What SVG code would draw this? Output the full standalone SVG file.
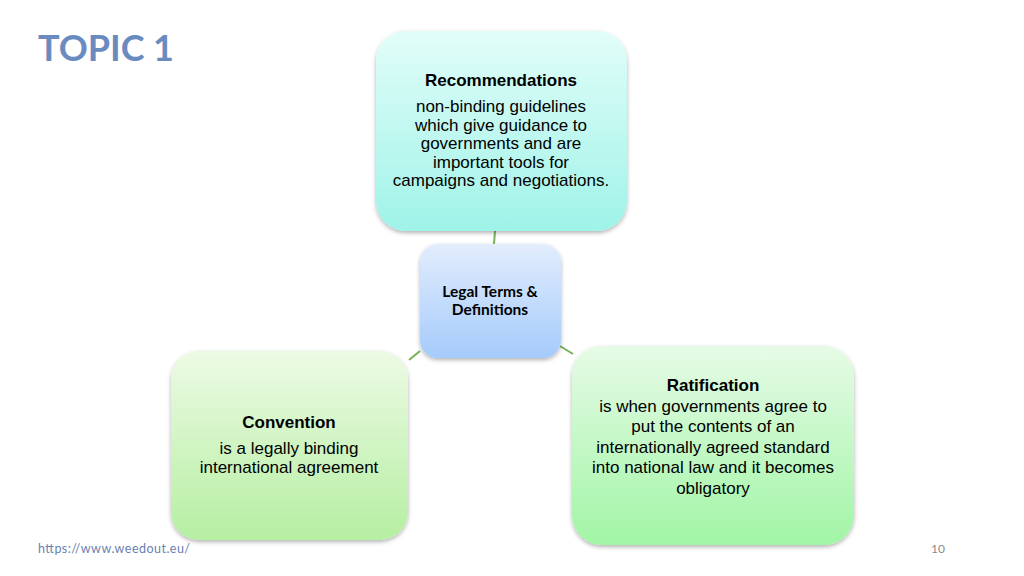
<svg xmlns="http://www.w3.org/2000/svg" width="1024" height="576" viewBox="0 0 1024 576">
<defs>
<linearGradient id="gCyan" x1="0" y1="0" x2="0" y2="1"><stop offset="0" stop-color="#e2fdf9"/><stop offset="1" stop-color="#9ff3e8"/></linearGradient>
<linearGradient id="gBlue" x1="0" y1="0" x2="0" y2="1"><stop offset="0" stop-color="#e2edfd"/><stop offset="1" stop-color="#a5cbfb"/></linearGradient>
<linearGradient id="gGreen1" x1="0" y1="0" x2="0" y2="1"><stop offset="0" stop-color="#ecfae4"/><stop offset="1" stop-color="#b6efa2"/></linearGradient>
<linearGradient id="gGreen2" x1="0" y1="0" x2="0" y2="1"><stop offset="0" stop-color="#e6fbe6"/><stop offset="1" stop-color="#a2f5a6"/></linearGradient>
<filter id="sh" x="-10%" y="-10%" width="120%" height="125%"><feDropShadow dx="0" dy="2" stdDeviation="2" flood-color="#000" flood-opacity="0.3"/></filter>
</defs>
<style>
.t{font-family:"Liberation Sans",Arial,sans-serif;font-size:17px;fill:#000;text-anchor:middle}
.b{font-weight:bold}
.c{font-family:Lato,"Open Sans",sans-serif;font-size:15.5px;font-weight:bold;fill:#000;text-anchor:middle}
.ln{stroke:#76b356;stroke-width:2;fill:none}
</style>
<rect width="1024" height="576" fill="#fff"/>
<text x="38" y="61" font-family="Lato,'Open Sans',sans-serif" font-size="36" font-weight="bold" fill="#6a8bbf" textLength="136">TOPIC 1</text>
<g id="connectors">
<line class="ln" x1="495" y1="231" x2="494" y2="244"/>
<line class="ln" x1="420" y1="351" x2="409" y2="360"/>
<line class="ln" x1="560" y1="346" x2="573" y2="354"/>
</g>
<g id="recommendations">
<rect x="376" y="31" width="251" height="200" rx="30" fill="url(#gCyan)" filter="url(#sh)"/>
<text class="t b" x="501" y="86">Recommendations</text>
<text class="t" x="501" y="112">non-binding guidelines</text>
<text class="t" x="501" y="131">which give guidance to</text>
<text class="t" x="501" y="149">governments and are</text>
<text class="t" x="501" y="168">important tools for</text>
<text class="t" x="501" y="186">campaigns and negotiations.</text>
</g>
<g id="legal">
<rect x="420" y="244" width="141" height="114" rx="18" fill="url(#gBlue)" filter="url(#sh)"/>
<text class="c" x="490" y="297">Legal Terms &amp;</text>
<text class="c" x="490" y="315">Definitions</text>
</g>
<g id="convention">
<rect x="171" y="351" width="237" height="189" rx="28" fill="url(#gGreen1)" filter="url(#sh)"/>
<text class="t b" x="289" y="428">Convention</text>
<text class="t" x="289" y="454">is a legally binding</text>
<text class="t" x="289" y="473">international agreement</text>
</g>
<g id="ratification">
<rect x="572" y="346" width="282" height="199" rx="30" fill="url(#gGreen2)" filter="url(#sh)"/>
<text class="t b" x="713" y="391">Ratification</text>
<text class="t" x="713" y="412">is when governments agree to</text>
<text class="t" x="713" y="432">put the contents of an</text>
<text class="t" x="713" y="453">internationally agreed standard</text>
<text class="t" x="713" y="473">into national law and it becomes</text>
<text class="t" x="713" y="494">obligatory</text>
</g>
<text x="38" y="553" font-family="Lato,'Open Sans',sans-serif" font-size="12.5" fill="#6a7fb0" textLength="152">https://www.weedout.eu/</text>
<text x="945" y="553" font-family="Lato,'Open Sans',sans-serif" font-size="12" fill="#8a8a8a" text-anchor="end">10</text>
</svg>
